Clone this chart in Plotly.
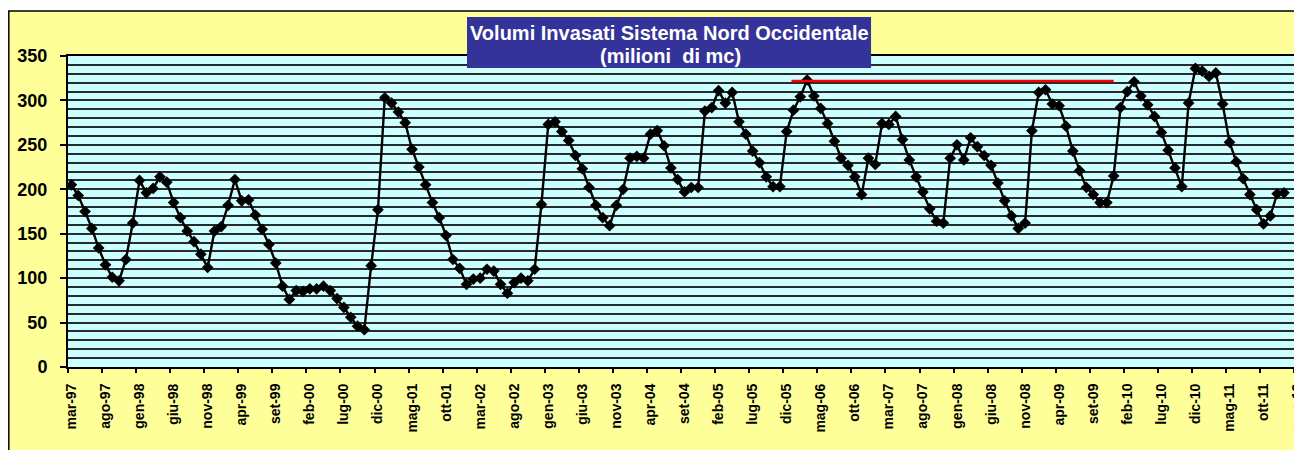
import plotly.graph_objects as go

month_names = ["gen", "feb", "mar", "apr", "mag", "giu", "lug", "ago", "set", "ott", "nov", "dic"]
categories = []
for k in range(181):
    m = (2 + k) % 12
    yr = 1997 + (2 + k) // 12
    categories.append(f"{month_names[m]}-{yr % 100:02d}")

volumes = [
    205, 193, 175, 156, 134, 115, 101, 97, 121, 162,
    210, 196, 201, 214, 208, 185, 168, 153, 141, 127,
    112, 153, 158, 182, 211, 187, 188, 171, 155, 138,
    117, 91, 76, 86, 85, 88, 88, 91, 86, 77,
    67, 56, 46, 42, 114, 177, 303, 297, 287, 275,
    245, 225, 205, 185, 168, 148, 121, 111, 93, 99,
    100, 110, 108, 93, 83, 95, 100, 97, 110, 183,
    273, 276, 265, 255, 238, 223, 202, 182, 168, 159,
    182, 200, 235, 237, 235, 262, 266, 249, 224, 211,
    197, 202, 202, 288, 292, 311, 297, 309, 276, 262,
    243, 230, 214, 203, 203, 265, 289, 304, 323, 305,
    291, 274, 254, 235, 227, 214, 194, 235, 228, 274,
    273, 282, 256, 233, 214, 197, 178, 164, 162, 235,
    250, 233, 258, 248, 238, 227, 207, 187, 170, 156,
    162, 266, 309, 312, 296, 294, 271, 243, 221, 202,
    194, 185, 185, 215, 292, 310, 321, 305, 295, 282,
    264, 244, 224, 203, 297, 336, 333, 327, 331, 296,
    253, 231, 212, 194, 177, 161, 170, 195, 196,
]
values = volumes + [None] * (len(categories) - len(volumes))

ref_level = 322
ref_start = 105.7
ref_end = 153.0

title_lines = ["Volumi Invasati Sistema Nord Occidentale", "(milioni  di mc)"]

FONT = "Arial, Liberation Sans, sans-serif"

fig = go.Figure()
fig.add_trace(go.Scatter(
    x=categories, y=values, mode="lines+markers",
    line=dict(color="black", width=2.4),
    marker=dict(symbol="diamond", size=9, color="black"),
    connectgaps=False, showlegend=False, hoverinfo="x+y",
))

fig.add_shape(type="line", xref="x", yref="y",
              x0=ref_start, x1=ref_end, y0=ref_level, y1=ref_level,
              line=dict(color="#FF0000", width=2.5), layer="above")

# yellow outer chart area with border
fig.add_shape(type="rect", xref="paper", yref="paper",
              x0=-0.048, x1=1.003, y0=-0.3, y1=1.1447,
              fillcolor="#FFFF99", line=dict(color="black", width=1.5), layer="below")
# light cyan plot area
fig.add_shape(type="rect", xref="paper", yref="paper",
              x0=0, x1=1, y0=0, y1=1,
              fillcolor="#CCFFFF", line=dict(width=0), layer="below")
# title box
fig.add_shape(type="rect", xref="paper", yref="paper",
              x0=0.3236, x1=0.6513, y0=0.9614, y1=1.1254,
              fillcolor="#333399", line=dict(width=0), layer="above")

fig.add_annotation(
    xref="paper", yref="paper", x=0.4878, y=1.074,
    text="<b>" + title_lines[0] + "</b>",
    showarrow=False, font=dict(family=FONT, size=20, color="white"),
    xanchor="center", yanchor="middle",
)
fig.add_annotation(
    xref="paper", yref="paper", x=0.489, y=1.0,
    text="<b>" + title_lines[1] + "</b>",
    showarrow=False, font=dict(family=FONT, size=20, color="white"),
    xanchor="center", yanchor="middle",
)

fig.update_layout(
    width=1294, height=442,
    margin=dict(l=60, r=1, t=48, b=83, autoexpand=False),
    paper_bgcolor="white",
    plot_bgcolor="rgba(0,0,0,0)",
    font=dict(family=FONT, color="black"),
    xaxis=dict(
        type="category", categoryorder="array", categoryarray=categories,
        range=[-0.5, 180.5], tickson="boundaries", dtick=5, tick0=0,
        tickangle=-90, ticks="outside", ticklen=4, tickwidth=1.5, tickcolor="black",
        ticklabelstandoff=9,
        showgrid=False, showline=True, linecolor="black", linewidth=2, mirror=True,
        automargin=False,
        tickfont=dict(family=FONT, size=14, color="black", weight="bold"),
    ),
    yaxis=dict(
        range=[0, 350], dtick=50, ticks="outside", ticklen=6, tickwidth=1.5, tickcolor="black",
        ticklabelstandoff=9,
        showgrid=True, gridcolor="#2a2a2a", gridwidth=1.6,
        minor=dict(dtick=10, showgrid=True, gridcolor="#2a2a2a", gridwidth=1.6),
        showline=True, linecolor="black", linewidth=2, mirror=True,
        zeroline=False, automargin=False,
        tickfont=dict(family=FONT, size=18, color="black", weight="bold"),
    ),
)

fig.write_html("out.html")
